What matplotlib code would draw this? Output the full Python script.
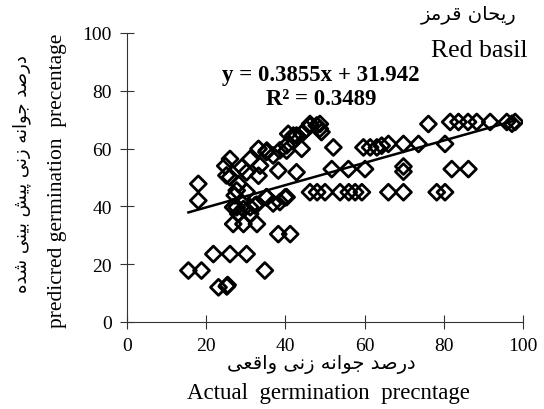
import matplotlib
matplotlib.use('Agg')
import matplotlib.pyplot as plt
import numpy as np

# actual vs predicted germination (%)
actual = [15.5, 18.8, 21.8, 26.0, 30.2, 23.1, 25.2, 25.4, 34.8, 38.2, 41.2,
          26.8, 29.4, 32.8, 28.1, 31.1, 18.0, 18.0, 26.0, 26.0, 30.2, 31.1,
          33.2, 35.3, 28.1, 33.2, 38.2, 42.8, 40.3, 44.1, 42.8, 40.7, 46.2,
          26.8, 31.1, 35.3, 39.9, 33.6, 35.2, 36.9, 38.6, 40.3, 42.0, 44.1,
          45.3, 47.9, 48.7, 49.1, 27.2, 30.2, 32.7, 27.7, 29.4, 32.3, 35.2,
          38.6, 40.3, 25.1, 27.7, 36.9, 29.0, 24.8,
          46.2, 48.7, 76.1, 81.6, 83.7, 86.1, 88.3, 91.7, 95.9, 98.0, 97.2,
          52.1, 59.7, 61.4, 63.1, 64.3, 66.0, 69.8, 73.6, 80.3,
          51.7, 55.9, 60.1, 69.8, 69.8, 82.0, 86.2,
          46.2, 50.0, 53.8, 57.6, 59.3, 66.0, 69.8, 78.2, 80.3, 48.0, 56.0]
predicted = [17.8, 17.8, 23.5, 23.5, 23.5, 12.0, 12.3, 12.8, 17.8, 30.4, 30.4,
             33.9, 33.9, 33.9, 37.4, 37.4, 47.8, 42.0, 56.4, 50.1, 51.8, 56.4,
             59.9, 59.3, 47.8, 50.6, 52.4, 51.8, 59.3, 59.9, 64.5, 65.1, 67.9,
             39.7, 39.7, 43.1, 43.1, 54.1, 58.8, 57.6, 59.4, 61.1, 64.5, 65.1,
             66.8, 68.0, 66.8, 65.7, 43.8, 45.0, 40.6, 39.7, 39.1, 40.3, 43.2,
             41.5, 43.2, 50.7, 45.5, 41.0, 53.5, 54.0,
             68.5, 68.5, 68.5, 69.2, 69.2, 69.2, 69.2, 69.2, 69.2, 69.2, 68.6,
             60.4, 60.4, 60.4, 60.4, 61.0, 61.6, 61.6, 61.6, 61.6,
             52.9, 52.9, 52.9, 52.0, 53.8, 52.9, 52.9,
             44.9, 44.9, 44.9, 44.9, 44.9, 44.9, 44.9, 44.9, 44.9, 44.9, 44.9]
slope = 0.3855
intercept = 31.942
r2 = 0.3489
ticks = [0, 20, 40, 60, 80, 100]

title_fa = 'ریحان قرمز'
title_en = 'Red basil'
xlabel_fa = 'درصد جوانه زنی واقعی'
xlabel_en = 'Actual  germination  precntage'
ylabel_fa = 'درصد جوانه زنی پیش بینی شده'
ylabel_en = 'predicred germination  precentage'

# contextual forms (isolated, final, initial, medial) for the letters used;
# matplotlib has no Arabic shaping, so do it by hand
FORMS = {
    'ا': ('\uFE8D', '\uFE8E', None, None),
    'ب': ('\uFE8F', '\uFE90', '\uFE91', '\uFE92'),
    'پ': ('\uFB56', '\uFB57', '\uFB58', '\uFB59'),
    'ج': ('\uFE9D', '\uFE9E', '\uFE9F', '\uFEA0'),
    'ح': ('\uFEA1', '\uFEA2', '\uFEA3', '\uFEA4'),
    'د': ('\uFEA9', '\uFEAA', None, None),
    'ر': ('\uFEAD', '\uFEAE', None, None),
    'ز': ('\uFEAF', '\uFEB0', None, None),
    'ش': ('\uFEB5', '\uFEB6', '\uFEB7', '\uFEB8'),
    'ص': ('\uFEB9', '\uFEBA', '\uFEBB', '\uFEBC'),
    'ع': ('\uFEC9', '\uFECA', '\uFECB', '\uFECC'),
    'ق': ('\uFED5', '\uFED6', '\uFED7', '\uFED8'),
    'م': ('\uFEE1', '\uFEE2', '\uFEE3', '\uFEE4'),
    'ن': ('\uFEE5', '\uFEE6', '\uFEE7', '\uFEE8'),
    'و': ('\uFEED', '\uFEEE', None, None),
    'ه': ('\uFEE9', '\uFEEA', '\uFEEB', '\uFEEC'),
    'ی': ('\uFBFC', '\uFBFD', '\uFBFE', '\uFBFF'),
}


def shape(text):
    out = []
    for i, ch in enumerate(text):
        if ch not in FORMS:
            out.append(ch)
            continue
        prev = text[i - 1] if i > 0 else ''
        nxt = text[i + 1] if i + 1 < len(text) else ''
        f = FORMS[ch]
        jp = prev in FORMS and FORMS[prev][2] is not None
        jn = nxt in FORMS and f[2] is not None
        if jp and jn:
            out.append(f[3])
        elif jp:
            out.append(f[1])
        elif jn:
            out.append(f[2])
        else:
            out.append(f[0])
    return ''.join(reversed(out))


serif = ['Liberation Serif', 'DejaVu Serif']
fa_font = ['DejaVu Sans']

fig = plt.figure(figsize=(5.44, 4.1), dpi=100)
ax = fig.add_axes([0.2335, 0.2122, 0.728, 0.705])

ax.scatter(actual, predicted, marker='D', s=66, facecolors='none',
           edgecolors='black', linewidths=2.0, zorder=3)

xs = np.array([min(actual), max(actual)])
ax.plot(xs, slope * xs + intercept, color='black', lw=1.8, zorder=4)

ax.set_xlim(0, 100)
ax.set_ylim(0, 100)
ax.set_xticks(ticks)
ax.set_yticks(ticks)
for s in ['top', 'right']:
    ax.spines[s].set_visible(False)
for s in ['left', 'bottom']:
    ax.spines[s].set_linewidth(0.8)
    ax.spines[s].set_color('#333333')
ax.tick_params(direction='inout', length=10, width=0.8, colors='#333333',
               labelcolor='black', labelsize=14, pad=6)
for lbl in ax.get_xticklabels() + ax.get_yticklabels():
    lbl.set_family(serif)

# regression label
ax.text(0.49, 0.857, 'y = 0.3855x + 31.942', transform=ax.transAxes,
        ha='center', va='center', fontsize=16.5, weight='bold', family=serif)
ax.text(0.49, 0.772, 'R² = %.4f' % r2, transform=ax.transAxes,
        ha='center', va='center', fontsize=16.5, weight='bold', family=serif)

# titles in the corner
fig.text(0.862, 0.963, shape(title_fa), ha='center', va='center',
         fontsize=14, family=fa_font)
fig.text(0.97, 0.875, title_en, ha='right', va='center',
         fontsize=18.5, family=serif)

# axis labels (Persian + English)
fig.text(0.59, 0.112, shape(xlabel_fa), ha='center', va='center',
         fontsize=14, family=fa_font)
fig.text(0.603, 0.04, xlabel_en, ha='center', va='center',
         fontsize=16.5, family=serif)
fig.text(0.04, 0.575, shape(ylabel_fa), ha='center', va='center',
         rotation=90, fontsize=13, family=fa_font)
fig.text(0.105, 0.56, ylabel_en, ha='center', va='center',
         rotation=90, fontsize=15.5, family=serif)

fig.savefig('out.png', dpi=100, facecolor='white')
